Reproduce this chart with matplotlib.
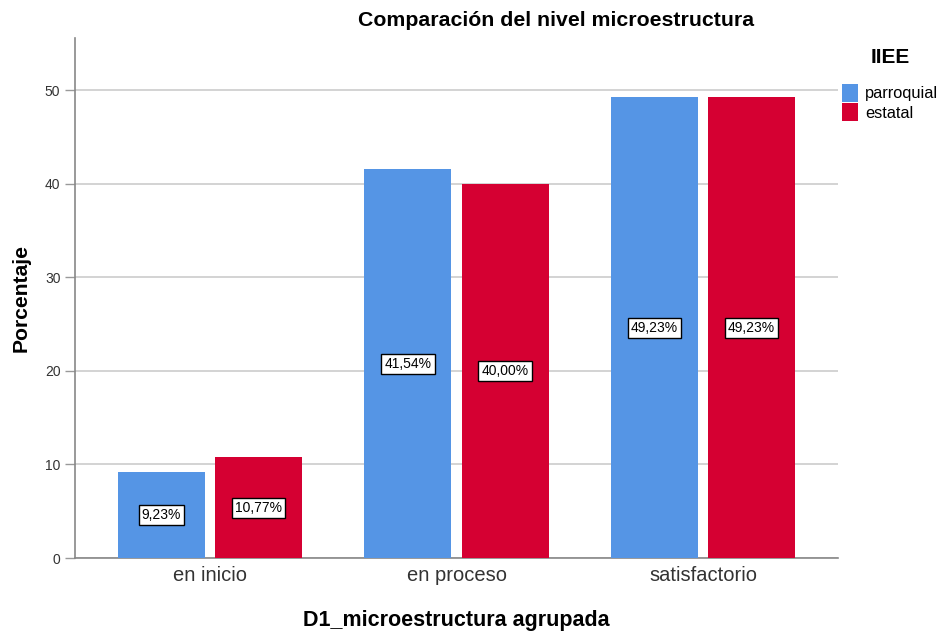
import matplotlib
matplotlib.use("Agg")
import matplotlib.pyplot as plt
import numpy as np

plt.rcParams["font.family"] = ["Liberation Sans", "DejaVu Sans"]

categories = ["en inicio", "en proceso", "satisfactorio"]
series_names = ["parroquial", "estatal"]
parroquial = [9.23, 41.54, 49.23]
estatal = [10.77, 40.00, 49.23]
yticks = [0, 10, 20, 30, 40, 50]

colors = ["#5595E5", "#D50032"]

fig = plt.figure(figsize=(9.39, 6.36), dpi=100)
ax = fig.add_axes([75/939, 1-558/636, (838-75)/939, (558-38)/636])

x = np.arange(len(categories))
w = 0.353
off = 0.197
for vals, sign, col, name in [(parroquial, -1, colors[0], series_names[0]), (estatal, 1, colors[1], series_names[1])]:
    bars = ax.bar(x + sign*off, vals, width=w, color=col, edgecolor="none", label=name, zorder=3)
    for b, v in zip(bars, vals):
        ax.text(b.get_x() + b.get_width()/2, v/2, f"{v:.2f}%".replace(".", ","),
                ha="center", va="center", fontsize=10, zorder=4,
                bbox=dict(boxstyle="square,pad=0.22", fc="white", ec="black", lw=1))

ax.set_xlim(-0.548, 2.548)
ax.set_ylim(0, 55.56)
ax.set_yticks(yticks)
ax.set_xticks(x)
ax.set_xticklabels(categories, fontsize=14.5, color="#333333")
ax.tick_params(axis="y", labelsize=10, length=7, color="#999999", width=1, labelcolor="#333333")
ax.tick_params(axis="x", length=0, pad=6)
ax.grid(axis="y", color="#cccccc", lw=1.2, zorder=0)
for s in ["top", "right"]:
    ax.spines[s].set_visible(False)
for s in ["left", "bottom"]:
    ax.spines[s].set_color("#888888")
    ax.spines[s].set_linewidth(1.2)

ax.set_ylabel("Porcentaje", fontsize=15.2, fontweight="bold", labelpad=10)
ax.set_xlabel("D1_microestructura agrupada", fontsize=15.5, fontweight="bold", labelpad=18)
fig.text(556/939, 1-21/636, "Comparación del nivel microestructura", ha="center", va="center",
         fontsize=15.3, fontweight="bold")

leg = ax.legend(loc="upper left", frameon=False, title="IIEE", fontsize=11.8,
                handlelength=1.0, handleheight=1.3,
                handletextpad=0.4, labelspacing=0.12, borderaxespad=0, borderpad=0)
leg.set_bbox_to_anchor((842/939, 1-48/636), transform=fig.transFigure)
leg.get_title().set_fontweight("bold")
leg.get_title().set_fontsize(15)
leg._legend_box.align = "center"
leg._legend_box.sep = 12

fig.savefig("out.png", dpi=100)
